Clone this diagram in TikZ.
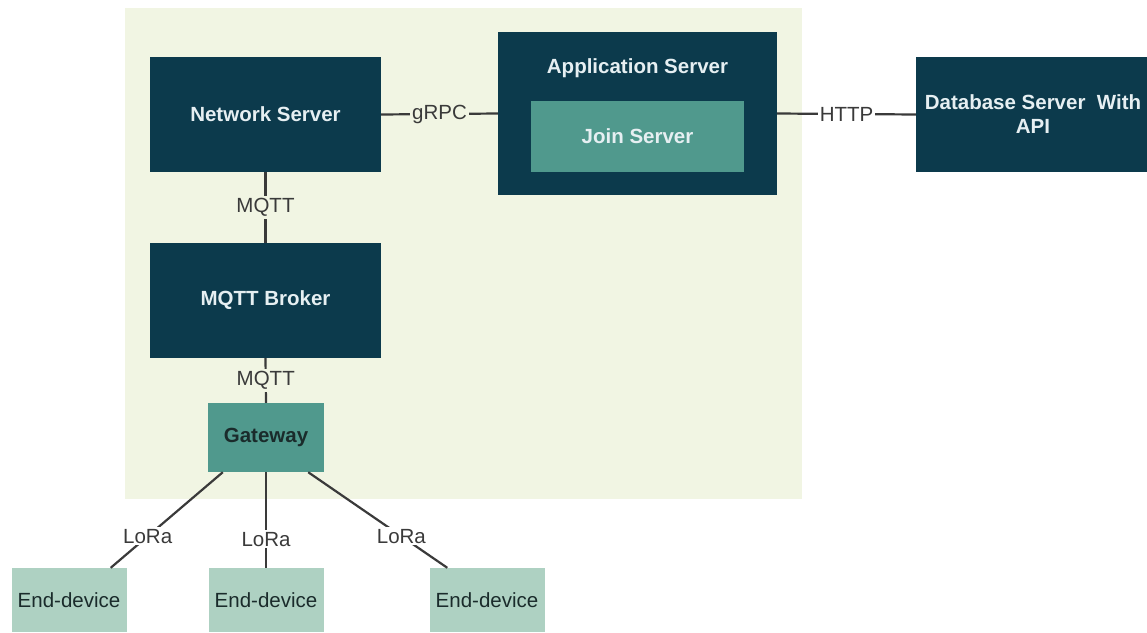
\documentclass[tikz,border=0pt]{standalone}
\usepackage{fontspec}
\setmainfont{Liberation Sans}
\definecolor{navy}{HTML}{0C3A4C}
\definecolor{teal}{HTML}{50998D}
\definecolor{mint}{HTML}{AED1C2}
\definecolor{panel}{HTML}{F1F5E3}
\definecolor{wire}{HTML}{3A3A3A}
\definecolor{paletext}{HTML}{E6EFF2}
\definecolor{darktext}{HTML}{1A2B2B}
\tikzset{
  every node/.style={font=\fontsize{20.5}{24}\selectfont},
  darkbox/.style={rectangle, fill=navy, draw=none, text=paletext, font=\fontsize{20.5}{24}\selectfont\bfseries, align=center},
  tealbox/.style={rectangle, fill=teal, draw=none, text=darktext, font=\fontsize{20.5}{24}\selectfont\bfseries, align=center},
  devbox/.style={rectangle, fill=mint, draw=none, text=darktext, minimum width=115pt, minimum height=64pt},
  wirelink/.style={draw=wire, line width=2.2pt},
  tag/.style={inner sep=2pt, text=wire, fill=#1},
  tag/.default=white
}
\begin{document}
\begin{tikzpicture}[x=1pt, y=-1pt]
\useasboundingbox (0,0) rectangle (1147,632);
% shared panel behind the server stack
\node[fill=panel, minimum width=677pt, minimum height=491pt, inner sep=0pt] (panel) at (463.5,253.5) {};

% servers
\node[darkbox, minimum width=231pt, minimum height=115pt] (ns) at (265.5,114.5) {Network Server};
\node[darkbox, minimum width=279pt, minimum height=163pt] (as) at (637.5,113.5) {};
\node[text=paletext, font=\fontsize{20.5}{24}\selectfont\bfseries] (astitle) at (637.5,68) {Application Server};
\node[tealbox, text=paletext, minimum width=213pt, minimum height=71pt] (js) at (637.5,136.5) {Join Server};
\node[darkbox, minimum width=234pt, minimum height=115pt] (db) at (1033,114.5) {Database Server\ \ With\\API};
\node[darkbox, minimum width=231pt, minimum height=115pt] (mb) at (265.5,300.5) {MQTT Broker};
\node[tealbox, minimum width=116pt, minimum height=69pt] (gw) at (266,437.5) {Gateway};

% end devices
\node[devbox] (ed1) at (69,600) {End-device};
\node[devbox] (ed2) at (266,600) {End-device};
\node[devbox] (ed3) at (487,600) {End-device};

% links
\draw[wirelink] (ns.east) -- node[tag=panel] {gRPC} (as.west);
\draw[wirelink] (as.east) -- node[tag] {HTTP} (db.west);
\draw[wirelink] (ns.south) -- node[tag=panel] {MQTT} (mb.north);
\draw[wirelink] (mb.south) -- node[tag=panel] {MQTT} (gw.north);
\draw[wirelink] ([xshift=15pt]gw.south west) -- node[tag, pos=0.67] {LoRa} ([xshift=-16pt]ed1.north east);
\draw[wirelink] (gw.south) -- node[tag, pos=0.7] {LoRa} (ed2.north);
\draw[wirelink] ([xshift=-16pt]gw.south east) -- node[tag, pos=0.67] {LoRa} ([xshift=18pt]ed3.north west);
\end{tikzpicture}
\end{document}
